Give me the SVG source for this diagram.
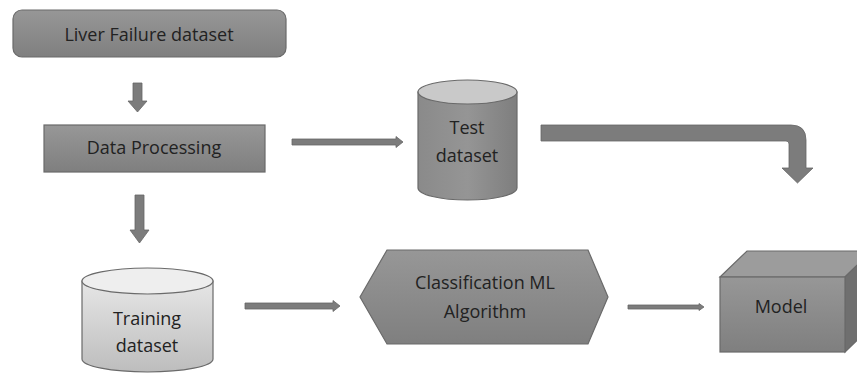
<svg xmlns="http://www.w3.org/2000/svg" width="857" height="375" viewBox="0 0 857 375">
  <defs>
    <linearGradient id="gBox" x1="0" y1="0" x2="0" y2="1">
      <stop offset="0" stop-color="#979797"/>
      <stop offset="1" stop-color="#7f7f7f"/>
    </linearGradient>
    <linearGradient id="gCylDark" x1="0" y1="0" x2="1" y2="0">
      <stop offset="0" stop-color="#8a8a8a"/>
      <stop offset="0.5" stop-color="#959595"/>
      <stop offset="1" stop-color="#7e7e7e"/>
    </linearGradient>
    <linearGradient id="gCylLight" x1="0" y1="0" x2="0" y2="1">
      <stop offset="0" stop-color="#e6e6e6"/>
      <stop offset="1" stop-color="#bdbdbd"/>
    </linearGradient>
  </defs>
  <style>
    .lbl { font-family: "Open Sans", "Liberation Sans", sans-serif; font-size: 18px; fill: #222; text-anchor: middle; }
    .shape { stroke: #6a6a6a; stroke-width: 1.2; }
    .arrow { fill: #7c7c7c; stroke: #666; stroke-width: 0.8; }
  </style>

  <g id="connectors">
    <!-- Liver Failure dataset -> Data Processing -->
    <polygon class="arrow" points="133,83 142,83 142,101 147,101 137.5,112 128,101 133,101"/>
    <!-- Data Processing -> Test dataset -->
    <polygon class="arrow" points="292,139 396,139 396,136.5 403,142 396,147.5 396,145 292,145"/>
    <!-- Test dataset -> Model (bent arrow) -->
    <path class="arrow" d="M541,125 L791,125 Q806,125 806,140 L806,168 L813,168 L797.5,183 L782,168 L789,168 L789,144 Q789,141 786,141 L541,141 Z"/>
    <!-- Data Processing -> Training dataset -->
    <polygon class="arrow" points="135,195 144,195 144,230 149,230 139.5,243 130,230 135,230"/>
    <!-- Training dataset -> Classification ML Algorithm -->
    <polygon class="arrow" points="245,303 333,303 333,300.5 340,306 333,311.5 333,309 245,309"/>
    <!-- Classification ML Algorithm -> Model -->
    <polygon class="arrow" points="628,305 699,305 699,303.5 704,307 699,310.5 699,309 628,309"/>
  </g>

  <g id="liver-failure-dataset">
    <rect class="shape" x="13" y="10" width="273" height="47" rx="9" fill="url(#gBox)"/>
    <text class="lbl" x="149" y="41">Liver Failure dataset</text>
  </g>

  <g id="data-processing">
    <rect class="shape" x="44" y="125" width="221" height="47" fill="url(#gBox)"/>
    <text class="lbl" x="154" y="154">Data Processing</text>
  </g>

  <g id="test-dataset">
    <path class="shape" d="M418,92 L418,188 A49.5,12 0 0 0 517,188 L517,92 Z" fill="url(#gCylDark)"/>
    <ellipse class="shape" cx="467.5" cy="92" rx="49.5" ry="12" fill="#c9c9c9"/>
    <text class="lbl" x="467" y="134">Test</text>
    <text class="lbl" x="467" y="162">dataset</text>
  </g>

  <g id="training-dataset">
    <path class="shape" d="M82,281 L82,359 A65.5,13 0 0 0 213,359 L213,281 Z" fill="url(#gCylLight)"/>
    <ellipse class="shape" cx="147.5" cy="281" rx="65.5" ry="13" fill="#eeeeee"/>
    <text class="lbl" x="147" y="325">Training</text>
    <text class="lbl" x="147" y="352">dataset</text>
  </g>

  <g id="classification-ml-algorithm">
    <polygon class="shape" points="387,250 588,250 608,297 588,344 387,344 360,297" fill="url(#gBox)"/>
    <text class="lbl" x="485" y="289">Classification ML</text>
    <text class="lbl" x="485" y="318">Algorithm</text>
  </g>

  <g id="model">
    <polygon class="shape" points="720,277 747,251 872,251 845,277" fill="#9c9c9c"/>
    <polygon class="shape" points="845,277 872,251 872,326 845,352" fill="#6f6f6f"/>
    <rect class="shape" x="720" y="277" width="125" height="75" fill="url(#gBox)"/>
    <text class="lbl" x="781" y="313">Model</text>
  </g>
</svg>
